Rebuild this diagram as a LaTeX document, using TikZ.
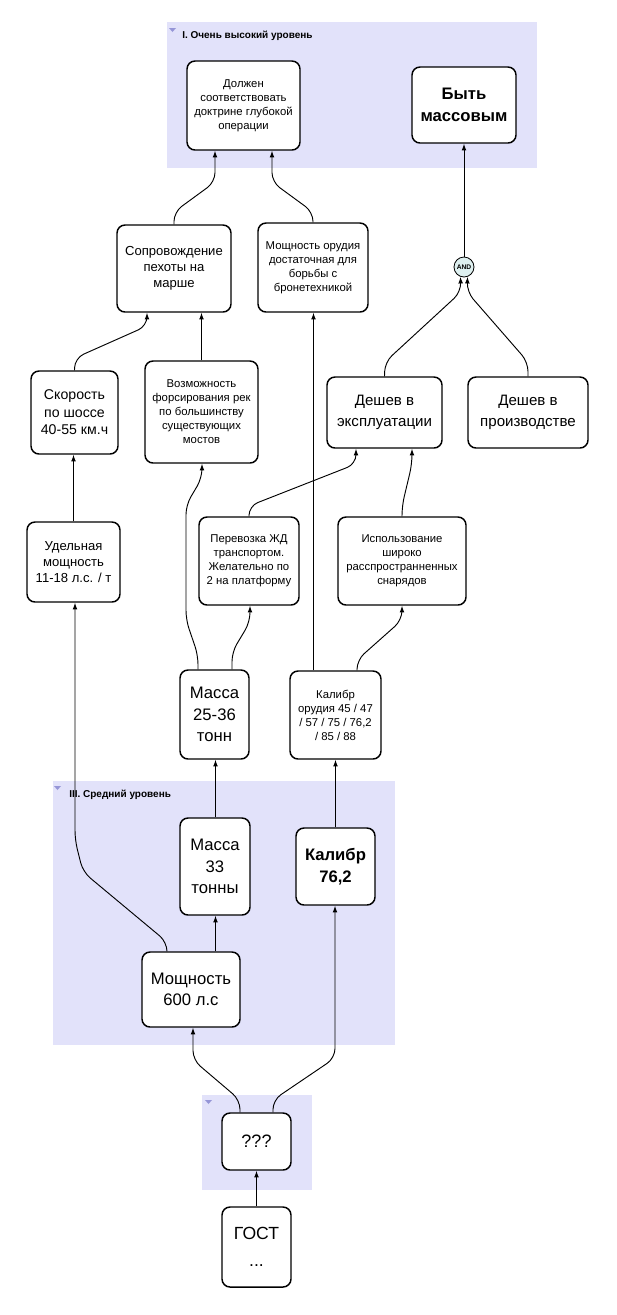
\documentclass[tikz,border=0pt]{standalone}
\usepackage{fontspec}
\setmainfont{Liberation Sans}
\usetikzlibrary{arrows.meta}
\definecolor{levelfill}{RGB}{226,226,250}
\definecolor{levelmark}{RGB}{150,150,215}
\definecolor{andfill}{RGB}{222,240,240}
\tikzset{
  box/.style 2 args={draw, line width=1.1pt, rounded corners=6pt, fill=white, align=center,
    inner sep=1pt, minimum width=#1*0.75pt, minimum height=#2*0.75pt},
  txta/.style={font=\fontsize{8.5}{10.5}\selectfont},
  txtb/.style={font=\fontsize{9.8}{11.8}\selectfont},
  txtc/.style={font=\fontsize{11.3}{15.5}\selectfont},
  txtd/.style={font=\fontsize{12.5}{16}\selectfont},
  txtbold/.style={font=\fontsize{12.5}{16.5}\selectfont\bfseries},
  level/.style={font=\fontsize{7.5}{9}\selectfont\bfseries, anchor=west, inner sep=0pt},
  link/.style={draw, line width=0.7pt, rounded corners=7pt, -{Latex[length=5pt,width=3.6pt]}}
}
\begin{document}
\begin{tikzpicture}[x=0.75pt, y=-0.75pt]
  \fill[white] (0,0) rectangle (617,1315);
  \useasboundingbox (0,0) rectangle (617,1315);

  \fill[levelfill] (167,22) rectangle (537,168);
  \fill[levelfill] (53,781) rectangle (395,1045);
  \fill[levelfill] (202,1095) rectangle (312,1190);
  \fill[levelmark] (169,28) -- (176,28) -- (172.5,32) -- cycle;
  \fill[levelmark] (54,786) -- (61,786) -- (57.5,790) -- cycle;
  \fill[levelmark] (205,1100) -- (212,1100) -- (208.5,1104) -- cycle;
  \node[level] (lvl1) at (182,36) {I. Очень высокий уровень};
  \node[level] (lvl3) at (69,794.5) {III. Средний уровень};

  \node[box={113}{89}, txta] (doctrine) at (243.5,105.5) {Должен\\соответствовать\\доктрине глубокой\\операции};
  \node[box={104}{76}, txtbold] (mass) at (464,105) {Быть\\массовым};
  \node[box={114}{87}, txtb] (sopr) at (174,268.5) {Сопровождение\\пехоты на\\марше};
  \node[box={110}{89}, txta] (gunpow) at (313,267.5) {Мощность орудия\\достаточная для\\борьбы с\\бронетехникой};
  \node[draw, circle, fill=andfill, line width=0.6pt, inner sep=0pt, minimum size=15pt,
    font=\fontsize{5}{5}\selectfont\bfseries] (and) at (464,267) {AND};
  \node[box={87}{83}, font=\fontsize{10.6}{13.2}\selectfont] (speed) at (74.5,412.5) {Скорость\\по шоссе\\40-55 км.ч};
  \node[box={113}{102}, txta] (river) at (201.5,412) {Возможность\\форсирования рек\\по большинству\\существующих\\мостов};
  \node[box={115}{71}, txtc] (cheapuse) at (384.5,412.5) {Дешев в\\эксплуатации};
  \node[box={120}{71}, txtc] (cheapprod) at (528,412.5) {Дешев в\\производстве};
  \node[box={93}{80}, txtb] (specpow) at (73.5,562) {Удельная\\мощность\\11-18 л.с. / т};
  \node[box={100}{88}, txta] (rail) at (249,561) {Перевозка ЖД\\транспортом.\\Желательно по\\2 на платформу};
  \node[box={128}{88}, txta] (shells) at (402,561) {Использование\\широко\\расспространненных\\снарядов};
  \node[box={69}{89}, txtd] (mass2536) at (214.5,714.5) {Масса\\25-36\\тонн};
  \node[box={91}{88}, txta] (calall) at (335.5,715) {Калибр\\орудия 45 / 47\\/ 57 / 75 / 76,2\\/ 85 / 88};
  \node[box={70}{97}, txtd] (mass33) at (215,866.5) {Масса\\33\\тонны};
  \node[box={79}{77}, txtbold] (cal762) at (335.5,866.5) {Калибр\\76,2};
  \node[box={98}{75}, txtd] (pow600) at (191,989.5) {Мощность\\600 л.с};
  \node[box={69}{57}, font=\fontsize{13.5}{16}\selectfont] (unknown) at (256.5,1141.5) {???};
  \node[box={69}{80}, font=\fontsize{13.2}{20}\selectfont] (gost) at (256.5,1247) {ГОСТ\\...};

  \draw[link] (sopr.north) -- (174,212) -- (215,182) -- (doctrine.south -| 215,0);
  \draw[link] (gunpow.north) -- (313,212) -- (272,182) -- (doctrine.south -| 272,0);
  \draw[link] (and.north) -- (mass.south);
  \draw[link] (cheapuse.north) -- (385,362) -- (461,292) -- (and.250);
  \draw[link] (cheapprod.north) -- (528,362) -- (467,292) -- (and.290);
  \draw[link] (speed.north) -- (75,358) -- (147,326) -- (sopr.south -| 147,0);
  \draw[link] (river.north) -- (sopr.south -| river.north);
  \draw[link] (calall.north -| 313.5,0) -- (gunpow.south -| 313.5,0);
  \draw[link] (specpow.north) -- (speed.south -| specpow.north);
  \draw[link] (mass2536.north -| 198,0) -- (198,655) -- (186,620) -- (186,505) -- (202,478) -- (river.south -| 202,0);
  \draw[link] (mass2536.north -| 232,0) -- (232,652) -- (250,622) -- (rail.south -| 250,0);
  \draw[link] (rail.north) -- (249,506) -- (356,464) -- (cheapuse.south -| 356,0);
  \draw[link] (shells.north) -- (402,506) -- (412,464) -- (cheapuse.south -| 412,0);
  \draw[link] (calall.north -| 357,0) -- (357,660) -- (402,620) -- (shells.south);
  \draw[link] (mass33.north -| 215.5,0) -- (mass2536.south -| 215.5,0);
  \draw[link] (cal762.north) -- (calall.south -| cal762.north);
  \draw[link] (pow600.north -| 167,0) -- (167,942) -- (83,872) -- (75,840) -- (specpow.south -| 75,0);
  \draw[link] (pow600.north -| 215.5,0) -- (mass33.south -| 215.5,0);
  \draw[link] (unknown.north -| 240,0) -- (240,1100) -- (193,1060) -- (pow600.south -| 193,0);
  \draw[link] (unknown.north -| 273,0) -- (273,1100) -- (335,1058) -- (cal762.south -| 335,0);
  \draw[link] (gost.north) -- (unknown.south);
\end{tikzpicture}
\end{document}
